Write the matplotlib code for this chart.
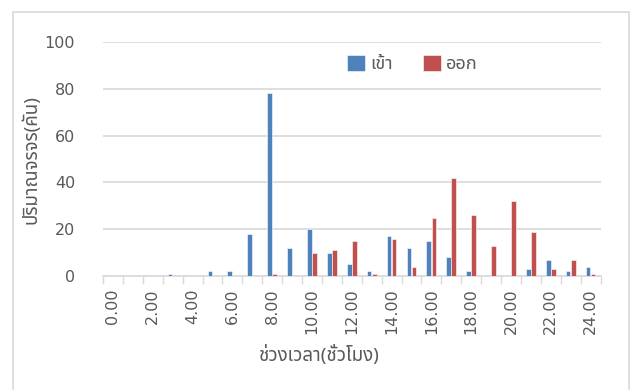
import matplotlib
matplotlib.use('Agg')
import matplotlib.pyplot as plt
import numpy as np
from matplotlib.patches import Rectangle

# hourly vehicle counts (0.00 - 24.00)
hours = list(range(25))
vehicles_in = [0, 0, 0, 1, 0, 2, 2, 18, 78, 12, 20, 10, 5, 2, 17, 12, 15, 8, 2, 0, 0, 3, 7, 2, 4]
vehicles_out = [0, 0, 0, 0, 0, 0, 0, 0, 1, 0, 10, 11, 15, 1, 16, 4, 25, 42, 26, 13, 32, 19, 3, 7, 1]
tick_labels = ['%.2f' % h for h in hours[::2]]

thai_fonts = ['Noto Sans Thai', 'Noto Sans', 'DejaVu Sans']
text_grey = '#595959'
grid_grey = '#D9D9D9'

fig = plt.figure(figsize=(6.31, 3.90), dpi=100)
ax = fig.add_axes([103 / 631, 114 / 390, 497.5 / 631, 234 / 390])

x = np.array(hours)
w = 0.235
ax.bar(x - 0.13, vehicles_in, width=w, color='#4F81BD', edgecolor='white', linewidth=0.4, label='เข้า', zorder=3)
ax.bar(x + 0.13, vehicles_out, width=w, color='#C0504D', edgecolor='white', linewidth=0.4, label='ออก', zorder=3)

ax.set_xlim(-0.5, 24.5)
ax.set_ylim(0, 100)
ax.set_yticks(range(0, 101, 20))
ax.yaxis.grid(True, color=grid_grey, linewidth=1.2, zorder=0)
ax.tick_params(axis='y', length=0, pad=20, labelsize=11.5, labelcolor=text_grey)

# category ticks sit between the bars, labels every two hours
ax.set_xticks(np.arange(-0.5, 25, 1), minor=True)
ax.set_xticks(hours[::2])
ax.set_xticklabels(tick_labels, rotation=90, fontsize=11.5, color=text_grey)
ax.tick_params(axis='x', which='major', length=0, pad=9)
ax.tick_params(axis='x', which='minor', length=6, width=1, color=grid_grey)

for side in ['top', 'right', 'left']:
    ax.spines[side].set_visible(False)
ax.spines['bottom'].set_color(grid_grey)
ax.spines['bottom'].set_linewidth(1.2)

ax.set_ylabel('ปริมาณจรจร(คัน)', fontsize=13.5, color=text_grey, family=thai_fonts, labelpad=3)
ax.set_xlabel('ช่วงเวลา(ชั่วโมง)', fontsize=13.5, color=text_grey, family=thai_fonts, va='center')
# axis title is centred on the whole chart, not the plot area
ax.xaxis.set_label_coords((319 - 103) / 497.5, (276 - 355) / 234)

leg = ax.legend(loc='center', bbox_to_anchor=(0.622, 0.905), ncol=2, frameon=False,
                handlelength=1.0, handleheight=1.0, handletextpad=0.25, columnspacing=1.7,
                prop={'family': thai_fonts, 'size': 13})
for t in leg.get_texts():
    t.set_color(text_grey)

# chart frame
fig.patches.append(Rectangle((13 / 631, -0.02), 616 / 631, (390 - 12) / 390 + 0.02,
                             transform=fig.transFigure, fill=False, edgecolor=grid_grey, linewidth=1.2))

fig.savefig('out.png', dpi=100)
